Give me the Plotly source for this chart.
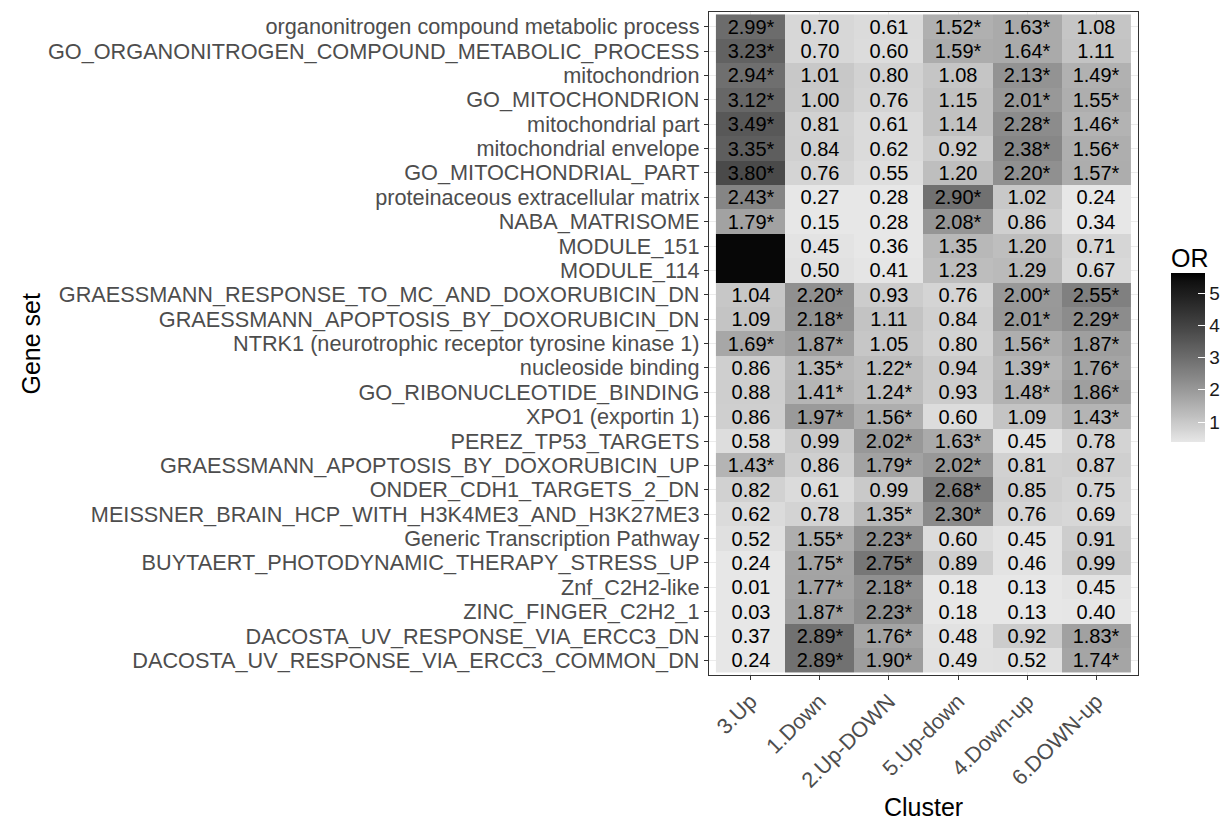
import numpy as np
import plotly.graph_objects as go

# ---- data -------------------------------------------------------------
clusters = ["3.Up", "1.Down", "2.Up-DOWN", "5.Up-down", "4.Down-up", "6.DOWN-up"]

gene_sets = [
    "organonitrogen compound metabolic process",
    "GO_ORGANONITROGEN_COMPOUND_METABOLIC_PROCESS",
    "mitochondrion",
    "GO_MITOCHONDRION",
    "mitochondrial part",
    "mitochondrial envelope",
    "GO_MITOCHONDRIAL_PART",
    "proteinaceous extracellular matrix",
    "NABA_MATRISOME",
    "MODULE_151",
    "MODULE_114",
    "GRAESSMANN_RESPONSE_TO_MC_AND_DOXORUBICIN_DN",
    "GRAESSMANN_APOPTOSIS_BY_DOXORUBICIN_DN",
    "NTRK1 (neurotrophic receptor tyrosine kinase 1)",
    "nucleoside binding",
    "GO_RIBONUCLEOTIDE_BINDING",
    "XPO1 (exportin 1)",
    "PEREZ_TP53_TARGETS",
    "GRAESSMANN_APOPTOSIS_BY_DOXORUBICIN_UP",
    "ONDER_CDH1_TARGETS_2_DN",
    "MEISSNER_BRAIN_HCP_WITH_H3K4ME3_AND_H3K27ME3",
    "Generic Transcription Pathway",
    "BUYTAERT_PHOTODYNAMIC_THERAPY_STRESS_UP",
    "Znf_C2H2-like",
    "ZINC_FINGER_C2H2_1",
    "DACOSTA_UV_RESPONSE_VIA_ERCC3_DN",
    "DACOSTA_UV_RESPONSE_VIA_ERCC3_COMMON_DN",
]

# odds ratios per cluster (one entry per gene set, same order as above)
or_3up = [2.99, 3.23, 2.94, 3.12, 3.49, 3.35, 3.80, 2.43, 1.79, 5.50, 5.50,
          1.04, 1.09, 1.69, 0.86, 0.88, 0.86, 0.58, 1.43, 0.82, 0.62, 0.52,
          0.24, 0.01, 0.03, 0.37, 0.24]
or_1down = [0.70, 0.70, 1.01, 1.00, 0.81, 0.84, 0.76, 0.27, 0.15, 0.45, 0.50,
            2.20, 2.18, 1.87, 1.35, 1.41, 1.97, 0.99, 0.86, 0.61, 0.78, 1.55,
            1.75, 1.77, 1.87, 2.89, 2.89]
or_2updown = [0.61, 0.60, 0.80, 0.76, 0.61, 0.62, 0.55, 0.28, 0.28, 0.36, 0.41,
              0.93, 1.11, 1.05, 1.22, 1.24, 1.56, 2.02, 1.79, 0.99, 1.35, 2.23,
              2.75, 2.18, 2.23, 1.76, 1.90]
or_5updown = [1.52, 1.59, 1.08, 1.15, 1.14, 0.92, 1.20, 2.90, 2.08, 1.35, 1.23,
              0.76, 0.84, 0.80, 0.94, 0.93, 0.60, 1.63, 2.02, 2.68, 2.30, 0.60,
              0.89, 0.18, 0.18, 0.48, 0.49]
or_4downup = [1.63, 1.64, 2.13, 2.01, 2.28, 2.38, 2.20, 1.02, 0.86, 1.20, 1.29,
              2.00, 2.01, 1.56, 1.39, 1.48, 1.09, 0.45, 0.81, 0.85, 0.76, 0.45,
              0.46, 0.13, 0.13, 0.92, 0.52]
or_6downup = [1.08, 1.11, 1.49, 1.55, 1.46, 1.56, 1.57, 0.24, 0.34, 0.71, 0.67,
              2.55, 2.29, 1.87, 1.76, 1.86, 1.43, 0.78, 0.87, 0.75, 0.69, 0.91,
              0.99, 0.45, 0.40, 1.83, 1.74]

# significance flags (1 = marked with an asterisk)
sig_3up = [1, 1, 1, 1, 1, 1, 1, 1, 1, 1, 1, 0, 0, 1, 0, 0, 0, 0, 1, 0, 0, 0, 0, 0, 0, 0, 0]
sig_1down = [0, 0, 0, 0, 0, 0, 0, 0, 0, 0, 0, 1, 1, 1, 1, 1, 1, 0, 0, 0, 0, 1, 1, 1, 1, 1, 1]
sig_2updown = [0, 0, 0, 0, 0, 0, 0, 0, 0, 0, 0, 0, 0, 0, 1, 1, 1, 1, 1, 0, 1, 1, 1, 1, 1, 1, 1]
sig_5updown = [1, 1, 0, 0, 0, 0, 0, 1, 1, 0, 0, 0, 0, 0, 0, 0, 0, 1, 1, 1, 1, 0, 0, 0, 0, 0, 0]
sig_4downup = [1, 1, 1, 1, 1, 1, 1, 0, 0, 0, 0, 1, 1, 1, 1, 1, 0, 0, 0, 0, 0, 0, 0, 0, 0, 0, 0]
sig_6downup = [0, 0, 1, 1, 1, 1, 1, 0, 0, 0, 0, 1, 1, 1, 1, 1, 1, 0, 0, 0, 0, 0, 0, 0, 0, 1, 1]

or_cols = [or_3up, or_1down, or_2updown, or_5updown, or_4downup, or_6downup]
sig_cols = [sig_3up, sig_1down, sig_2updown, sig_5updown, sig_4downup, sig_6downup]

# ---- matrices -----------------------------------------------------------
z = np.array(or_cols).T                     # rows = gene sets, cols = clusters
sig = np.array(sig_cols).T

# black text on the near-black tiles at the top of the scale is not legible,
# so those tiles carry no label
LABEL_MAX = 5.0
labels = [["" if z[i, j] > LABEL_MAX else f"{z[i, j]:.2f}" + ("*" if sig[i, j] else "")
           for j in range(len(clusters))]
          for i in range(len(gene_sets))]

# ---- grey gradient, linear in CIE L* (light grey -> black) -----------
L_LOW = 91.5


def grey_from_lightness(L):
    fy = (L + 16.0) / 116.0
    y = fy ** 3 if fy ** 3 > 0.008856 else L / 903.3
    c = 12.92 * y if y <= 0.0031308 else 1.055 * y ** (1 / 2.4) - 0.055
    v = int(round(max(0.0, min(1.0, c)) * 255))
    return f"rgb({v},{v},{v})"


colorscale = [[float(t), grey_from_lightness(L_LOW * (1 - t))] for t in np.linspace(0, 1, 41)]

ZMIN, ZMAX = 0.38, 5.62

FONT = "Liberation Sans, Arial, Helvetica, sans-serif"

# panel geometry in pixels
W, H = 1225, 820
PL, PR, PT, PB = 709, 1138, 12, 675
PW, PH = PR - PL, PB - PT


def px_x(x):
    return (x - PL) / PW


def px_y(y):
    return (PB - y) / PH


fig = go.Figure(
    go.Heatmap(
        z=z,
        x=clusters,
        y=gene_sets,
        text=labels,
        texttemplate="%{text}",
        textfont=dict(family=FONT, size=20, color="black"),
        colorscale=colorscale,
        zmin=ZMIN,
        zmax=ZMAX,
        colorbar=dict(
            x=px_x(1171),
            xanchor="left",
            y=px_y(442),
            yanchor="bottom",
            len=169,
            lenmode="pixels",
            thickness=34,
            thicknessmode="pixels",
            xpad=0,
            ypad=0,
            outlinewidth=0,
            tickmode="array",
            tickvals=[1, 2, 3, 4, 5],
            ticks="inside",
            ticklen=7,
            tickwidth=1,
            tickcolor="white",
            tickfont=dict(family=FONT, size=19, color="#1a1a1a"),
        ),
    )
)

axis_common = dict(
    showline=True,
    linecolor="#333333",
    linewidth=1.3,
    mirror=True,
    ticks="outside",
    ticklen=4,
    tickwidth=1.2,
    tickcolor="#333333",
    showgrid=True,
    gridcolor="#ebebeb",
    gridwidth=1,
    zeroline=False,
    tickfont=dict(family=FONT, size=21.7, color="#4d4d4d"),
)

fig.update_xaxes(
    **axis_common,
    type="category",
    tickmode="array",
    tickvals=clusters,
    ticktext=clusters,
    range=[-0.6, len(clusters) - 0.4],
    tickangle=-45,
)
fig.update_yaxes(
    **axis_common,
    type="category",
    tickmode="array",
    tickvals=gene_sets,
    ticktext=gene_sets,
    range=[len(gene_sets) - 0.4, -0.6],
)

fig.update_layout(
    width=W,
    height=H,
    margin=dict(l=PL, r=W - PR, t=PT, b=H - PB, autoexpand=False),
    paper_bgcolor="white",
    plot_bgcolor="white",
    font=dict(family=FONT, color="black"),
    annotations=[
        dict(
            text="Cluster",
            xref="paper", yref="paper",
            x=0.5, y=px_y(807),
            xanchor="center", yanchor="middle",
            showarrow=False,
            font=dict(family=FONT, size=25, color="black"),
        ),
        dict(
            text="Gene set",
            xref="paper", yref="paper",
            x=px_x(30), y=0.5,
            xanchor="center", yanchor="middle",
            textangle=-90,
            showarrow=False,
            font=dict(family=FONT, size=25, color="black"),
        ),
        dict(
            text="OR",
            xref="paper", yref="paper",
            x=px_x(1169), y=px_y(258),
            xanchor="left", yanchor="middle",
            showarrow=False,
            font=dict(family=FONT, size=25, color="black"),
        ),
    ],
)

fig.write_html("out.html")
